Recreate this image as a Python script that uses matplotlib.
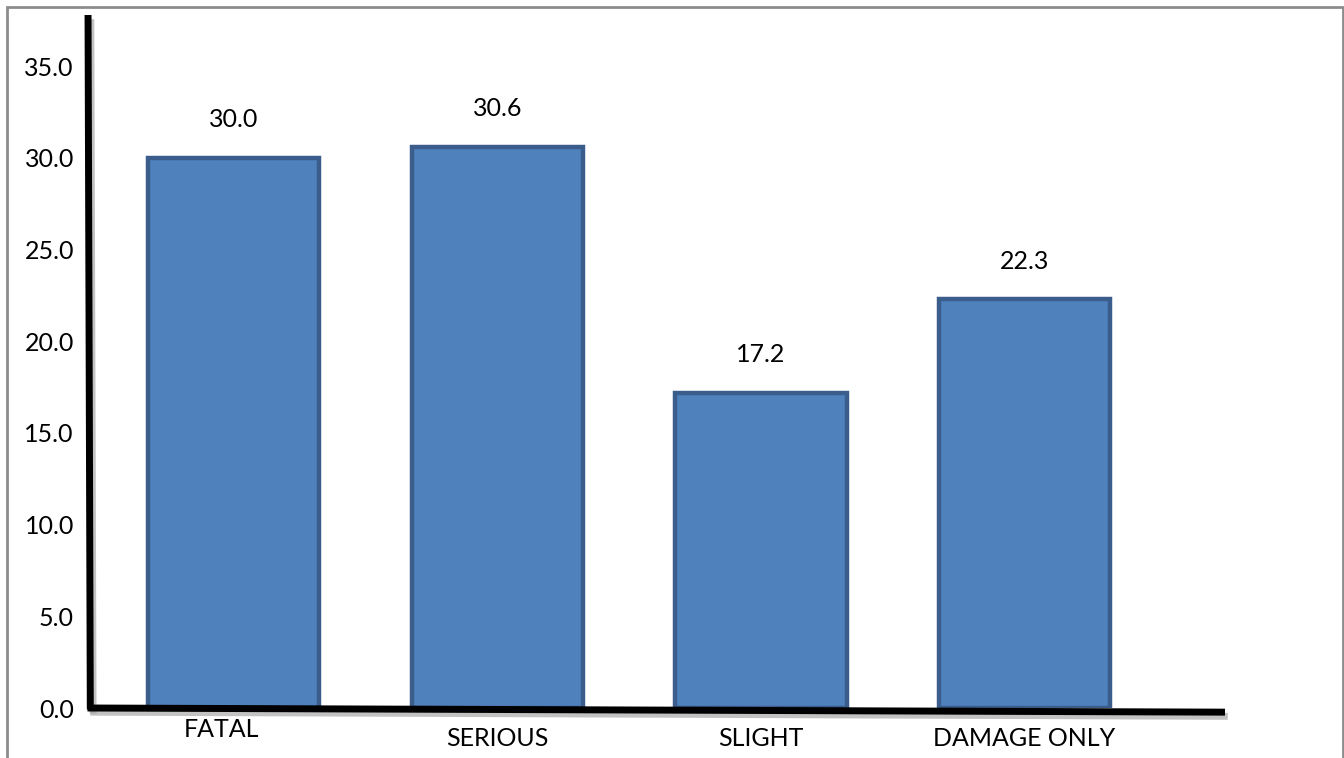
import matplotlib
matplotlib.use("Agg")
import matplotlib.pyplot as plt
import matplotlib.patheffects as pe
from matplotlib.patches import Rectangle
from matplotlib.lines import Line2D
from matplotlib.transforms import ScaledTranslation

categories = ["FATAL", "SERIOUS", "SLIGHT", "DAMAGE ONLY"]
values = [30.0, 30.6, 17.2, 22.3]
y_ticks = [0, 5, 10, 15, 20, 25, 30, 35]

W, H, DPI = 1344, 758, 100
plt.rcParams["font.family"] = ["Lato", "DejaVu Sans"]

fig = plt.figure(figsize=(W / DPI, H / DPI), dpi=DPI)
fig.patch.set_facecolor("white")

# outer frame
fig.patches.append(Rectangle((7 / W, -0.05), (1343 - 7) / W, 1.05 - 7 / H,
                             transform=fig.transFigure, fill=False,
                             edgecolor="#8c8c8c", linewidth=2))

left, right, top, bottom = 92, 1225, 15, 708
ax = fig.add_axes([left / W, 1 - bottom / H, (right - left) / W, (bottom - top) / H])

x = range(len(categories))
bars = ax.bar(x, values, width=0.65, color="#4f81bd", edgecolor="#3a5d8c",
              linewidth=3.2, zorder=2)

ax.set_xlim(-0.537, 3.76)
ax.set_ylim(0, 37.8)

for s in ax.spines.values():
    s.set_visible(False)

shadow = [pe.SimpleLineShadow(offset=(2, -3), shadow_color="#9a9a9a", alpha=0.6),
          pe.Normal()]
# hand-drawn axis lines
ax.add_line(Line2D([-0.0035, -0.0015], [1.0, -0.002], transform=ax.transAxes, color="black",
                   linewidth=5, clip_on=False, zorder=3, path_effects=shadow,
                   solid_capstyle="butt"))
ax.add_line(Line2D([-0.004, 1.0], [0.0, -0.006], transform=ax.transAxes, color="black",
                   linewidth=5, clip_on=False, zorder=3, path_effects=shadow,
                   solid_capstyle="butt"))

ax.set_yticks(y_ticks)
ax.set_yticklabels([f"{v:.1f}" for v in y_ticks])
ax.set_xticks(list(x))
ax.set_xticklabels(categories)
ax.tick_params(axis="y", length=0, pad=13, labelsize=18)
ax.tick_params(axis="x", length=0, pad=14, labelsize=18)

# first category label sits a little higher and left
lab0 = ax.get_xticklabels()[0]
lab0.set_transform(lab0.get_transform() + ScaledTranslation(-0.12, 0.09, fig.dpi_scale_trans))

for b, v in zip(bars, values):
    ax.annotate(f"{v:.1f}", (b.get_x() + b.get_width() / 2, v),
                xytext=(0, 38), textcoords="offset pixels",
                ha="center", va="center", fontsize=18)

fig.savefig("out.png", dpi=DPI)
